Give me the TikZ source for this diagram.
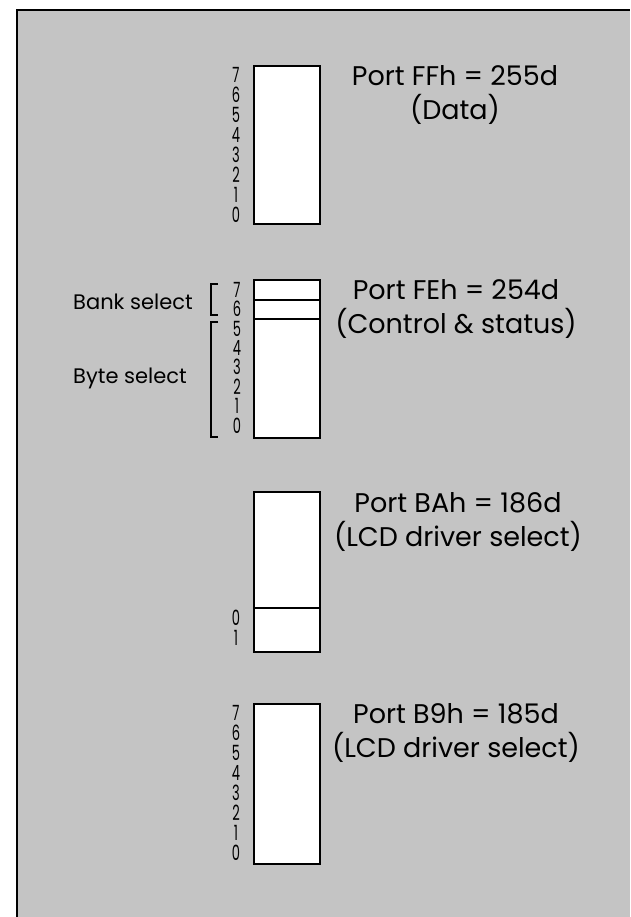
\documentclass[tikz,border=0pt]{standalone}
\usepackage{fontspec}
\setmainfont{Poppins}
\definecolor{bg}{gray}{0.77}
\begin{document}
\begin{tikzpicture}[x=1pt,y=-1pt,
  reg/.style={draw=black,line width=2pt,fill=white},
  sep/.style={line width=2pt},
  bit/.style={inner sep=0pt,text height=14.5pt,text depth=0pt,font=\fontsize{21}{21}\selectfont},
  title/.style={align=center,font=\fontsize{27}{34}\selectfont,inner sep=0pt},
  lbl/.style={inner sep=0pt,anchor=west,font=\fontsize{21}{22}\selectfont},
  brk/.style={line width=1.6pt}]
\useasboundingbox (0,0) rectangle (630,917);
\fill[white] (0,0) rectangle (630,917);
\fill[bg] (17,10) rectangle (630,917);
\draw[line width=2pt] (17,917) -- (17,10) -- (630,10);
% register boxes
\draw[reg] (254,66) rectangle (320,224);
\draw[reg] (254,280) rectangle (320,438);
\draw[sep] (254,300) -- (320,300);
\draw[sep] (254,319) -- (320,319);
\draw[reg] (254,492) rectangle (320,652);
\draw[sep] (254,608) -- (320,608);
\draw[reg] (254,704) rectangle (320,864);
% bit numbers
\foreach \d in {0,...,7} {
  \node[bit] (a\d) at (236,215-20*\d) {\scalebox{0.62}[1]{\d}};
  \node[bit] (b\d) at (237,426-19.43*\d) {\scalebox{0.62}[1]{\d}};
  \node[bit] (d\d) at (236,853-20*\d) {\scalebox{0.62}[1]{\d}};
}
\node[bit] (c0) at (236,618.5) {\scalebox{0.62}[1]{0}};
\node[bit] (c1) at (236,638) {\scalebox{0.62}[1]{1}};
% titles
\node[title] (t1) at (455,95) {Port FFh = 255d\\(Data)};
\node[title] (t2) at (456,309) {Port FEh = 254d\\(Control \& status)};
\node[title] (t3) at (458,522) {Port BAh = 186d\\(LCD driver select)};
\node[title] (t4) at (456,733) {Port B9h = 185d\\(LCD driver select)};
% side labels and brackets
\node[lbl] (bank) at (73,302) {Bank select};
\node[lbl] (byte) at (73,378) {Byte select};
\draw[brk] (218,284) -- (211,284) -- (211,315) -- (218,315);
\draw[brk] (218,322) -- (211,322) -- (211,437) -- (218,437);
\end{tikzpicture}
\end{document}
